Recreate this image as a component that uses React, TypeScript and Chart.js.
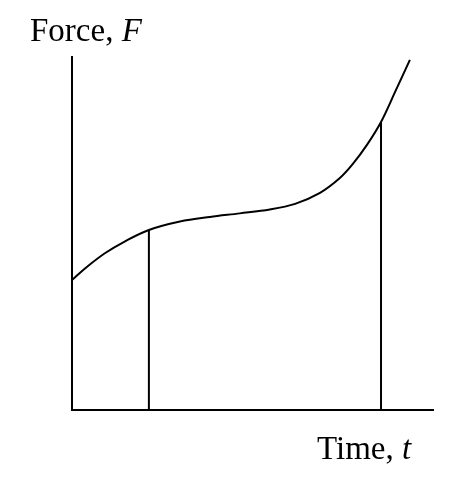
import React, { useEffect, useRef } from "react";
import { Chart, registerables } from "chart.js";

Chart.register(...registerables);

// Force–time curve (arbitrary units)
const timeValues = [0, 0.36, 0.91, 1.47, 2.13, 2.99, 3.82, 4.65, 5.48, 6.18, 6.87, 7.42, 7.78, 8.17, 8.56, 8.95, 9.36];
const forceValues = [3.68, 4.01, 4.44, 4.78, 5.1, 5.34, 5.47, 5.57, 5.68, 5.84, 6.15, 6.57, 6.97, 7.51, 8.16, 9.01, 9.92];

// Vertical markers at two instants
const markerTimes = [2.13, 8.56];
const markerForces = [5.1, 8.16];

const yLabel = "Force, ";
const yLabelVar = "F";
const xLabel = "Time, ";
const xLabelVar = "t";

const labelsPlugin = {
  id: "axisLabels",
  afterDraw(chart: any) {
    const { ctx, chartArea } = chart;
    ctx.save();
    ctx.fillStyle = "#000";
    ctx.textBaseline = "alphabetic";
    ctx.textAlign = "left";
    const normal = "33px 'Liberation Serif', serif";
    const italic = "italic 33px 'Liberation Serif', serif";
    // y label
    let x = chartArea.left - 42;
    let y = chartArea.top - 16;
    ctx.font = normal;
    ctx.fillText(yLabel, x, y);
    x += ctx.measureText(yLabel).width;
    ctx.font = italic;
    ctx.fillText(yLabelVar, x, y);
    // x label
    x = chartArea.right - 116;
    y = chartArea.bottom + 49;
    ctx.font = normal;
    ctx.fillText(xLabel, x, y);
    x += ctx.measureText(xLabel).width;
    ctx.font = italic;
    ctx.fillText(xLabelVar, x, y);
    ctx.restore();
  },
};

export default function App() {
  const ref = useRef<HTMLCanvasElement | null>(null);

  useEffect(() => {
    if (!ref.current) return;
    const curve = timeValues.map((t, i) => ({ x: t, y: forceValues[i] }));
    const markers = markerTimes.map((t, i) => ({
      label: "marker" + i,
      data: [
        { x: t, y: 0 },
        { x: t, y: markerForces[i] },
      ],
      borderColor: "#000",
      borderWidth: 2,
      pointRadius: 0,
      tension: 0,
      fill: false,
    }));
    const chart = new Chart(ref.current, {
      type: "line",
      data: {
        datasets: [
          {
            label: "F(t)",
            data: curve,
            borderColor: "#000",
            borderWidth: 2,
            pointRadius: 0,
            tension: 0.35,
            fill: false,
          },
          ...markers,
        ],
      },
      options: {
        animation: false,
        responsive: false,
        devicePixelRatio: 1,
        layout: { padding: { left: 64, right: 39, top: 57, bottom: 66 } },
        plugins: {
          legend: { display: false },
          tooltip: { enabled: false },
          title: { display: false },
        },
        scales: {
          x: {
            type: "linear",
            min: 0,
            max: 10,
            grid: { display: false },
            ticks: { display: false },
            border: { display: true, color: "#000", width: 2 },
          },
          y: {
            type: "linear",
            min: 0,
            max: 10,
            grid: { display: false },
            ticks: { display: false },
            border: { display: true, color: "#000", width: 2 },
          },
        },
      },
      plugins: [labelsPlugin],
    });
    return () => chart.destroy();
  }, []);

  return (
    <div style={{ position: "fixed", left: 0, top: 0, width: 472, height: 484, background: "#fff" }}>
      <canvas ref={ref} width={472} height={484} />
    </div>
  );
}
